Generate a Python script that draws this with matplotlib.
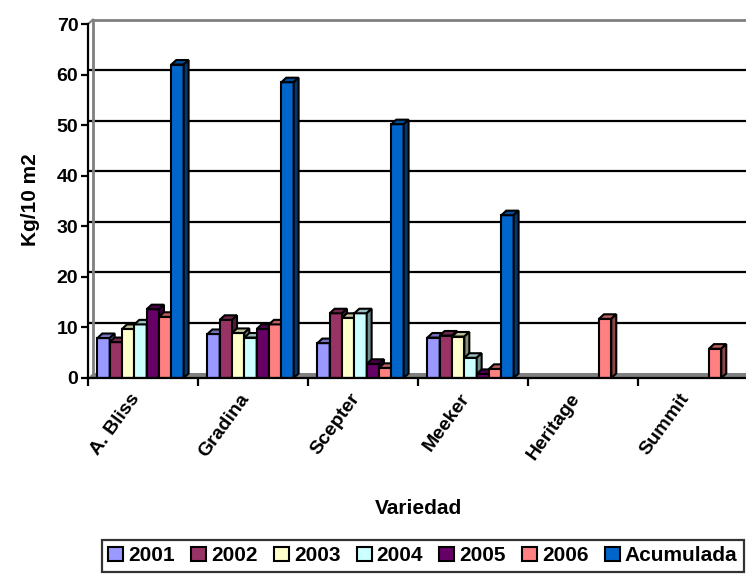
import numpy as np
import matplotlib.pyplot as plt
from matplotlib.patches import Polygon, Patch

plt.rcParams['font.family'] = ['Liberation Sans', 'DejaVu Sans']
plt.rcParams['font.weight'] = 'bold'

variedades = ["A. Bliss", "Gradina", "Scepter", "Meeker", "Heritage", "Summit"]
series = ["2001", "2002", "2003", "2004", "2005", "2006", "Acumulada"]
nan = np.nan
v2001 = [7.9, 8.7, 6.9, 8.0, nan, nan]
v2002 = [7.1, 11.5, 12.8, 8.4, nan, nan]
v2003 = [9.7, 8.9, 11.9, 8.2, nan, nan]
v2004 = [10.6, 8.0, 12.8, 4.0, nan, nan]
v2005 = [13.6, 9.7, 2.8, 0.8, nan, nan]
v2006 = [12.1, 10.6, 2.0, 1.8, 11.7, 5.8]
acum = [62.0, 58.5, 50.2, 32.2, nan, nan]
valores = [v2001, v2002, v2003, v2004, v2005, v2006, acum]

colores = ["#9999FF", "#993366", "#FFFFCC", "#CCFFFF", "#660066", "#FF8080", "#0066CC"]

def oscuro(c, f=0.6):
    r, g, b = [int(c[i:i+2], 16) / 255 for i in (1, 3, 5)]
    return (r*f, g*f, b*f)

fig = plt.figure(figsize=(7.46, 5.74), dpi=100)
ax = fig.add_axes([88/746, 196/574, 660/746, 364/574])
ax.set_xlim(0, 6)
ax.set_ylim(0, 72)

dx = 0.045  # profundidad 3d
dy = 0.9
w = 0.112
x = np.arange(6) + 0.5

# piso y pared
ax.add_patch(Polygon([(0, 0), (6, 0), (6, dy), (dx, dy)], closed=True,
                     facecolor="#808080", edgecolor="none", zorder=1))
for g in range(10, 70, 10):
    ax.plot([0, 6], [g + dy, g + dy], color="black", lw=1.6, zorder=1)
ax.plot([dx, 6], [70 + dy, 70 + dy], color="#808080", lw=2, zorder=1)
ax.plot([dx, dx], [dy, 70 + dy], color="#808080", lw=2, zorder=1)
ax.plot([0, dx], [70, 70 + dy], color="#808080", lw=1.5, zorder=1)

for i, vals in enumerate(valores):
    pos = x + (i - 3) * w - dx / 2
    z = 3 + i
    ax.bar(pos, vals, width=w, color=colores[i], edgecolor="black", lw=1.5, zorder=z)
    for xp, h in zip(pos, vals):
        if np.isnan(h):
            continue
        x0, x1 = xp - w/2, xp + w/2
        ax.add_patch(Polygon([(x0, h), (x0+dx, h+dy), (x1+dx, h+dy), (x1, h)], closed=True,
                             facecolor=oscuro(colores[i], 0.75), edgecolor="black", lw=1.5, zorder=z))
        ax.add_patch(Polygon([(x1, 0), (x1+dx, dy), (x1+dx, h+dy), (x1, h)], closed=True,
                             facecolor=oscuro(colores[i], 0.55), edgecolor="black", lw=1.5, zorder=z))

ax.spines['top'].set_visible(False)
ax.spines['right'].set_visible(False)
ax.spines['left'].set_bounds(0, 70)
ax.spines['left'].set_linewidth(1.6)
ax.spines['bottom'].set_linewidth(1.6)
ax.spines['bottom'].set_zorder(20)

ax.set_yticks(range(0, 71, 10))
ax.tick_params(axis='y', labelsize=14, width=1.6, length=5, direction='out', pad=2)
ax.set_xticks(np.arange(0, 7))
ax.set_xticklabels([])
ax.tick_params(axis='x', which='major', width=1.6, length=6, direction='out')
ax.set_xticks(x, minor=True)
ax.set_xticklabels(variedades, minor=True, rotation=54, ha='right', va='bottom',
                   rotation_mode='anchor', fontsize=14, fontweight='bold')
ax.tick_params(axis='x', which='minor', length=0, pad=16)

fig.text(30/746, 1 - 200/574, "Kg/10 m2", rotation=90, ha='center', va='center',
         fontsize=15, fontweight='bold')
fig.text(418/746, 1 - 508/574, "Variedad", ha='center', va='center',
         fontsize=15, fontweight='bold')

handles = [Patch(facecolor=c, edgecolor="black", lw=1.5) for c in colores]
leg = fig.legend(handles, series, loc='upper left', bbox_to_anchor=(102/746, 1 - 540/574),
                 ncol=7, fontsize=15, handlelength=0.72, handleheight=0.72,
                 handletextpad=0.24, columnspacing=0.78, frameon=True, fancybox=False,
                 borderpad=0.3, borderaxespad=0)
leg.get_frame().set_edgecolor("black")
leg.get_frame().set_linewidth(1.6)
for t in leg.get_texts():
    t.set_fontweight('bold')

fig.savefig("out.png", dpi=100)
